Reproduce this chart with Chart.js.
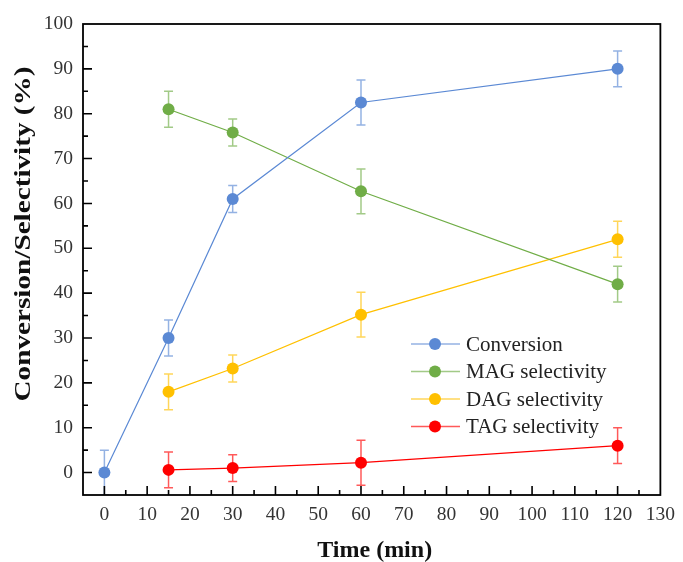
<!DOCTYPE html>
<html>
<head>
<meta charset="utf-8">
<script src="https://cdn.jsdelivr.net/npm/chart.js@4.4.0/dist/chart.umd.min.js"></script>
<style>
  html, body { margin: 0; padding: 0; background: #fff; }
  canvas { display: block; }
</style>
</head>
<body>
<canvas id="chart" width="683" height="562"></canvas>
<script>
// sampling times (min)
const times = [0, 15, 30, 60, 120];

// series values (%) and their error bars
const conversion = [0, 30, 61, 82.5, 90];
const conversionErr = [5, 4, 3, 5, 4];
const magSel = [null, 81, 75.8, 62.7, 42];
const magErr = [null, 4, 3, 5, 4];
const dagSel = [null, 18, 23.2, 35.2, 52];
const dagErr = [null, 4, 3, 5, 4];
const tagSel = [null, 0.6, 1.0, 2.2, 6.0];
const tagErr = [null, 4, 3, 5, 4];

// tick labels
const xTicks = [0, 10, 20, 30, 40, 50, 60, 70, 80, 90, 100, 110, 120, 130];
const yTicks = [0, 10, 20, 30, 40, 50, 60, 70, 80, 90, 100];

const SERIF = "'Liberation Serif', 'Times New Roman', serif";

// build {x, y, err} points, skipping missing values
function points(values, errs) {
  const out = [];
  values.forEach((v, i) => {
    if (v !== null) out.push({ x: times[i], y: v, err: errs[i] });
  });
  return out;
}

function makeSet(label, values, errs, color, barColor) {
  return {
    label: label,
    data: points(values, errs),
    borderColor: color,
    backgroundColor: color,
    errorColor: barColor,
    borderWidth: 1.2,
    pointRadius: 6,
    pointHoverRadius: 6,
    pointBorderWidth: 0,
    showLine: true,
    tension: 0,
  };
}

// error bars, drawn under the points
const errorBars = {
  id: "errorBars",
  beforeDatasetsDraw(chart) {
    const { ctx, chartArea, scales } = chart;
    ctx.save();
    ctx.beginPath();
    ctx.rect(chartArea.left, chartArea.top, chartArea.right - chartArea.left, chartArea.bottom - chartArea.top);
    ctx.clip();
    chart.data.datasets.forEach((ds) => {
      ctx.strokeStyle = ds.errorColor;
      ctx.lineWidth = 1.5;
      ds.data.forEach((p) => {
        const x = scales.x.getPixelForValue(p.x);
        const yTop = scales.y.getPixelForValue(p.y + p.err);
        const yBot = scales.y.getPixelForValue(p.y - p.err);
        ctx.beginPath();
        ctx.moveTo(x, yTop);
        ctx.lineTo(x, yBot);
        ctx.moveTo(x - 4.5, yTop);
        ctx.lineTo(x + 4.5, yTop);
        ctx.moveTo(x - 4.5, yBot);
        ctx.lineTo(x + 4.5, yBot);
        ctx.stroke();
      });
    });
    ctx.restore();
  },
};

// box frame, inward ticks, axis titles and legend
const frame = {
  id: "frame",
  afterDraw(chart) {
    const { ctx, chartArea, scales } = chart;
    const { left, right, top, bottom } = chartArea;
    ctx.save();
    ctx.strokeStyle = "#000";
    ctx.lineWidth = 1.8;
    ctx.strokeRect(left, top, right - left, bottom - top);

    ctx.lineWidth = 1.6;
    ctx.beginPath();
    for (let v = -5; v <= 130; v += 5) {
      const x = scales.x.getPixelForValue(v);
      if (x <= left + 1 || x >= right - 1) continue;
      const len = v % 10 === 0 ? 9 : 5;
      ctx.moveTo(x, bottom);
      ctx.lineTo(x, bottom - len);
    }
    for (let v = -5; v <= 100; v += 5) {
      const y = scales.y.getPixelForValue(v);
      if (y >= bottom - 1 || y <= top + 1) continue;
      const len = v % 10 === 0 ? 9 : 5;
      ctx.moveTo(left, y);
      ctx.lineTo(left + len, y);
    }
    ctx.stroke();

    // axis titles
    ctx.fillStyle = "#111";
    ctx.font = "bold 24px " + SERIF;
    ctx.textAlign = "center";
    ctx.textBaseline = "alphabetic";
    ctx.fillText("Time (min)", (left + right) / 2 + 3, 557);

    ctx.save();
    ctx.translate(30, 234);
    ctx.rotate(-Math.PI / 2);
    const yTitle = "Conversion/Selectivity (%)";
    const w = ctx.measureText(yTitle).width;
    ctx.scale(335 / w, 1);
    ctx.fillText(yTitle, 0, 0);
    ctx.restore();

    // legend inside the plot
    ctx.font = "21px " + SERIF;
    ctx.textAlign = "left";
    ctx.textBaseline = "middle";
    chart.data.datasets.forEach((ds, i) => {
      const y = 344 + i * 27.5;
      ctx.strokeStyle = ds.errorColor;
      ctx.lineWidth = 1.5;
      ctx.beginPath();
      ctx.moveTo(411, y);
      ctx.lineTo(460, y);
      ctx.stroke();
      ctx.fillStyle = ds.backgroundColor;
      ctx.beginPath();
      ctx.arc(435, y, 6, 0, Math.PI * 2);
      ctx.fill();
      ctx.fillStyle = "#222";
      ctx.fillText(ds.label, 466, y + 1);
    });
    ctx.restore();
  },
};

new Chart(document.getElementById("chart"), {
  type: "scatter",
  data: {
    datasets: [
      makeSet("Conversion", conversion, conversionErr, "rgb(91,137,212)", "rgba(91,137,212,0.65)"),
      makeSet("MAG selectivity", magSel, magErr, "rgb(112,173,71)", "rgba(112,173,71,0.65)"),
      makeSet("DAG selectivity", dagSel, dagErr, "rgb(255,192,0)", "rgba(255,192,0,0.65)"),
      makeSet("TAG selectivity", tagSel, tagErr, "rgb(255,0,0)", "rgba(255,0,0,0.65)"),
    ],
  },
  options: {
    responsive: false,
    animation: false,
    layout: { padding: { top: 24, right: 16, left: 0, bottom: 0 } },
    plugins: {
      legend: { display: false },
      tooltip: { enabled: false },
    },
    scales: {
      x: {
        type: "linear",
        min: -5,
        max: 130,
        grid: { display: false, drawTicks: false },
        border: { display: false },
        afterBuildTicks: (scale) => {
          scale.ticks = xTicks.map((v) => ({ value: v }));
        },
        afterFit: (scale) => {
          scale.height = 67;
        },
        ticks: {
          color: "#333",
          padding: 8,
          maxRotation: 0,
          autoSkip: false,
          font: { family: SERIF, size: 19.5 },
        },
      },
      y: {
        type: "linear",
        min: -5,
        max: 100,
        grid: { display: false, drawTicks: false },
        border: { display: false },
        afterBuildTicks: (scale) => {
          scale.ticks = yTicks.map((v) => ({ value: v }));
        },
        afterFit: (scale) => {
          scale.width = 83;
        },
        ticks: {
          color: "#333",
          padding: 10,
          autoSkip: false,
          font: { family: SERIF, size: 19.5 },
        },
      },
    },
  },
  plugins: [errorBars, frame],
});
</script>
</body>
</html>
